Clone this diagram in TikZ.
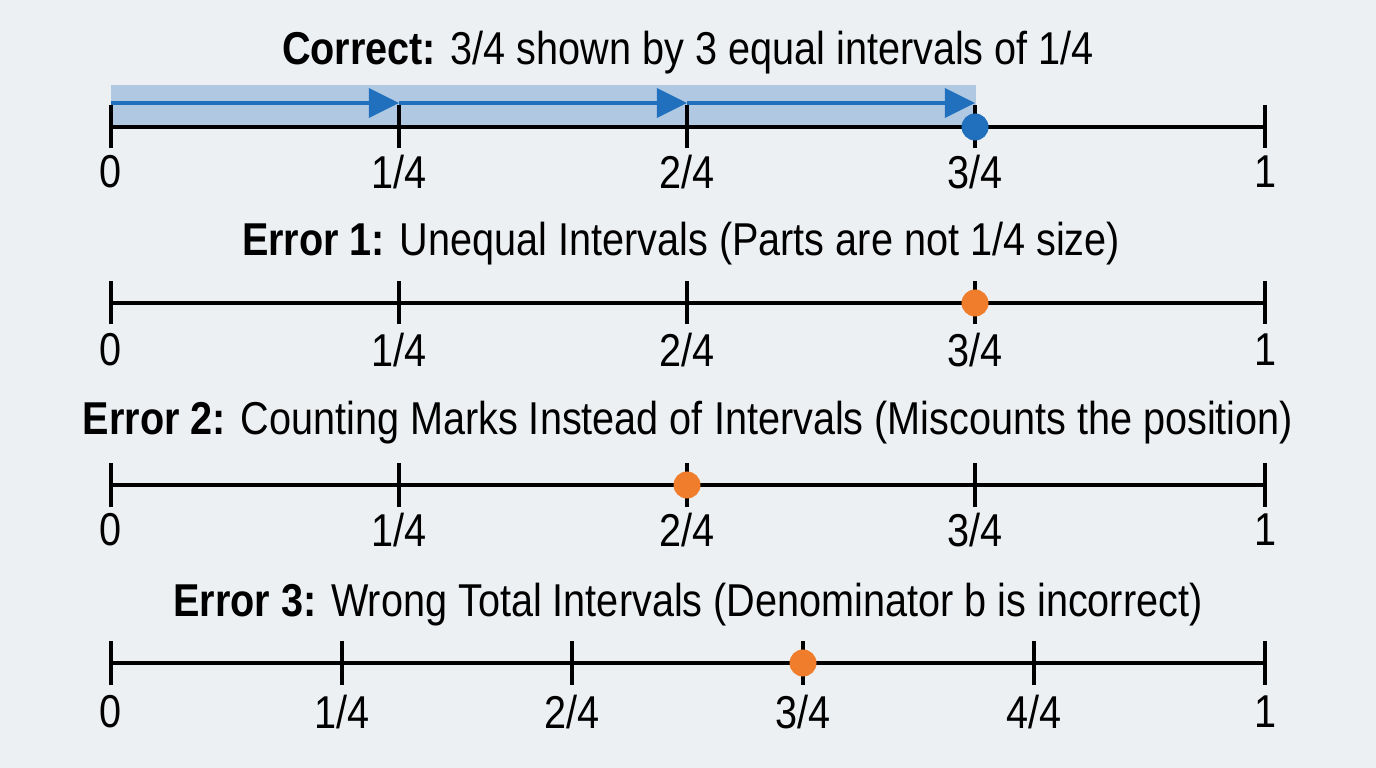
\documentclass[tikz,border=0pt]{standalone}
\usepackage{fontspec}
\setmainfont{Liberation Sans}[FakeStretch=0.86]
\usepackage{tikz}
\usetikzlibrary{arrows.meta}
\definecolor{bgcol}{HTML}{EDF0F2}
\definecolor{dotblue}{HTML}{2170BE}
\definecolor{dotorange}{HTML}{F07D2C}
\definecolor{bandblue}{HTML}{A6C2E0}
\begin{document}
\begin{tikzpicture}[x=0.01cm,y=-0.01cm,
    tickmark/.style ={rectangle, fill=black, minimum width=0.035cm, minimum height=0.43cm, inner sep=0pt},
    axis/.style ={line width=1pt, black},
    numlabel/.style ={font=\fontsize{13.1}{15}\selectfont, inner sep=0pt},
    rowtitle/.style ={font=\fontsize{13.1}{15}\selectfont, inner sep=0pt},
    hopstep/.style ={line width=1pt, dotblue, -{Triangle[length=0.3cm, width=0.29cm]}},
    rightdot/.style ={circle, fill=dotblue, minimum size=0.27cm, inner sep=0pt},
    wrongdot/.style ={circle, fill=dotorange, minimum size=0.27cm, inner sep=0pt}]
   \fill[bgcol] (0,0) rectangle (1376,768);
   % correct
   \node[rowtitle] (title0) at (688,53) {\textbf{Correct:} 3/4 shown by 3 equal intervals of 1/4};
   \fill[bandblue, opacity=0.85] (111,85) rectangle (976,126);
   \node[tickmark] (A0) at (111,127) {};
   \node[tickmark] (A1) at (399,127) {};
   \node[tickmark] (A2) at (687,127) {};
   \node[tickmark] (A3) at (975,127) {};
   \node[tickmark] (A4) at (1265,127) {};
   \draw[axis] (A0) -- (A4);
   \coordinate (H0) at (111,103);
   \coordinate (H1) at (399,103);
   \coordinate (H2) at (687,103);
   \coordinate (H3) at (975,103);
   \draw[hopstep] (H0) -- (H1);
   \draw[hopstep] (H1) -- (H2);
   \draw[hopstep] (H2) -- (H3);
   \node[rightdot] (P0) at (A3) {};
   \node[numlabel] (a0) at (111,172) {0};
   \node[numlabel] (a1) at (399,172) {1/4};
   \node[numlabel] (a2) at (687,172) {2/4};
   \node[numlabel] (a3) at (975,172) {3/4};
   \node[numlabel] (a4) at (1265,172) {1};
   % error 1
   \node[rowtitle] (title1) at (681,244) {\textbf{Error 1:} Unequal Intervals (Parts are not 1/4 size)};
   \node[tickmark] (B0) at (111,303) {};
   \node[tickmark] (B1) at (399,303) {};
   \node[tickmark] (B2) at (687,303) {};
   \node[tickmark] (B3) at (975,303) {};
   \node[tickmark] (B4) at (1265,303) {};
   \draw[axis] (B0) -- (B4);
   \node[wrongdot] (P1) at (B3) {};
   \node[numlabel] (b0) at (111,350) {0};
   \node[numlabel] (b1) at (399,350) {1/4};
   \node[numlabel] (b2) at (687,350) {2/4};
   \node[numlabel] (b3) at (975,350) {3/4};
   \node[numlabel] (b4) at (1265,350) {1};
   % error 2
   \node[rowtitle] (title2) at (688,423) {\textbf{Error 2:} Counting Marks Instead of Intervals (Miscounts the position)};
   \node[tickmark] (C0) at (111,485) {};
   \node[tickmark] (C1) at (399,485) {};
   \node[tickmark] (C2) at (687,485) {};
   \node[tickmark] (C3) at (975,485) {};
   \node[tickmark] (C4) at (1265,485) {};
   \draw[axis] (C0) -- (C4);
   \node[wrongdot] (P2) at (C2) {};
   \node[numlabel] (c0) at (111,530) {0};
   \node[numlabel] (c1) at (399,530) {1/4};
   \node[numlabel] (c2) at (687,530) {2/4};
   \node[numlabel] (c3) at (975,530) {3/4};
   \node[numlabel] (c4) at (1265,530) {1};
   % error 3
   \node[rowtitle] (title3) at (688,605) {\textbf{Error 3:} Wrong Total Intervals (Denominator b is incorrect)};
   \node[tickmark] (D0) at (111,663) {};
   \node[tickmark] (D1) at (342,663) {};
   \node[tickmark] (D2) at (572,663) {};
   \node[tickmark] (D3) at (803,663) {};
   \node[tickmark] (D4) at (1034,663) {};
   \node[tickmark] (D5) at (1265,663) {};
   \draw[axis] (D0) -- (D5);
   \node[wrongdot] (P3) at (D3) {};
   \node[numlabel] (d0) at (111,712) {0};
   \node[numlabel] (d1) at (342,712) {1/4};
   \node[numlabel] (d2) at (572,712) {2/4};
   \node[numlabel] (d3) at (803,712) {3/4};
   \node[numlabel] (d4) at (1034,712) {4/4};
   \node[numlabel] (d5) at (1265,712) {1};
 \end{tikzpicture}
\end{document}
